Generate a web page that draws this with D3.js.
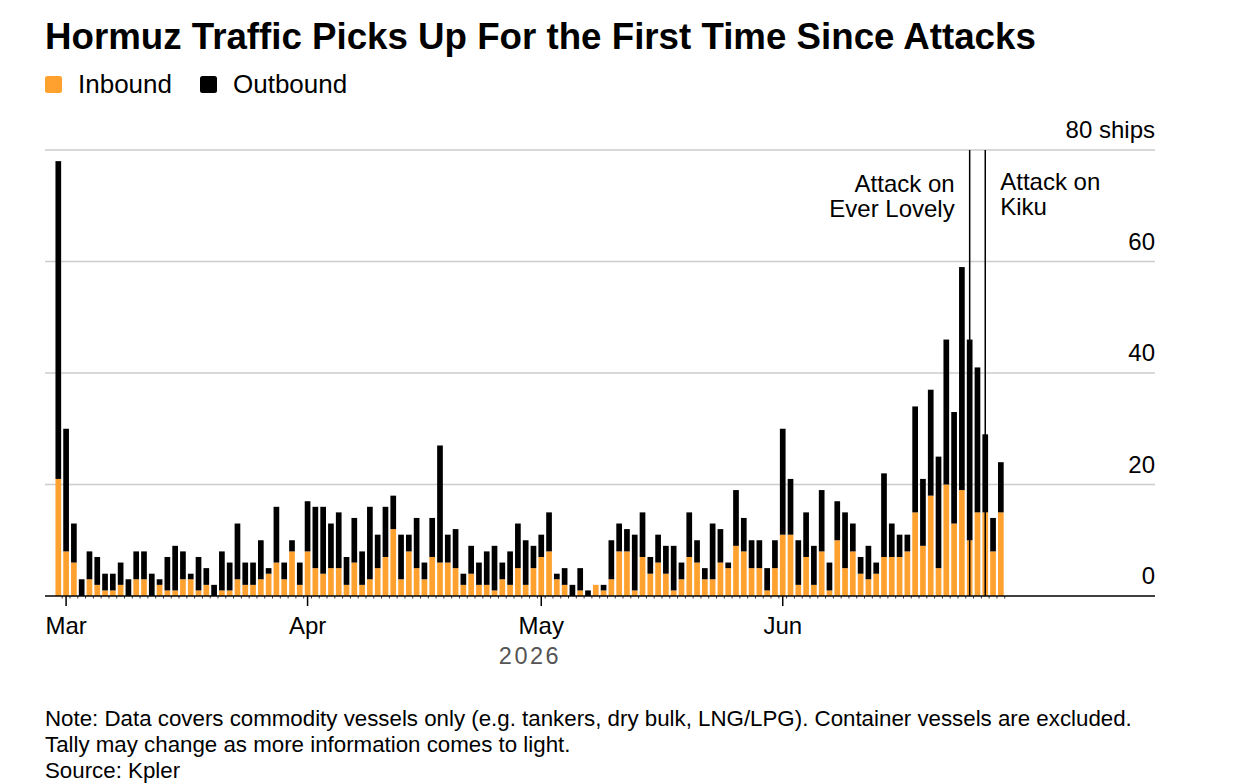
<!DOCTYPE html>
<html>
<head>
<meta charset="utf-8">
<script src="https://cdn.jsdelivr.net/npm/d3@7"></script>
<style>
  body { margin: 0; background: #fff; }
  svg { display: block; font-family: "Liberation Sans", Arial, sans-serif; }
</style>
</head>
<body>
<div id="chart"></div>
<script>
// Daily ships through Hormuz, Feb 28 - Jun 29 2026
const firstDay = "2026-02-28";
const lastDay = "2026-06-29";

// Inbound: Feb 28, then Mar / Apr / May / Jun
const inbound = [21,
  8,6,0,3,2,1,1,2,0,3,3,0,2,1,1,3,3,1,2,0,1,1,3,2,2,3,4,6,3,8,2,
  8,5,4,5,5,2,6,2,3,5,7,12,3,8,5,3,7,6,6,5,2,4,2,2,1,3,2,5,2,5,
  7,8,3,2,0,1,0,2,1,3,8,8,1,7,4,6,4,1,3,7,6,3,3,6,5,9,8,5,5,1,5,
  11,11,2,7,2,8,1,10,5,8,4,3,4,7,7,7,8,15,9,18,5,20,13,19,10,15,15,8,15];

const outbound = [57,
  22,7,3,5,5,3,3,4,3,5,5,4,1,6,8,5,1,6,3,2,7,5,10,4,4,7,1,10,3,2,4,
  9,11,12,8,10,5,8,6,13,6,9,6,8,3,9,3,7,21,5,7,2,5,4,6,8,3,6,8,8,4,
  4,7,1,3,2,4,1,0,1,7,5,4,10,8,3,5,5,8,3,8,4,2,10,6,1,10,6,5,5,4,5,
  19,10,8,8,7,11,5,7,10,5,3,6,2,15,6,4,3,19,12,19,20,26,20,40,36,26,14,6,9];

const yTicks = [0, 20, 40, 60, 80];
const monthTicks = ["2026-03-01", "2026-04-01", "2026-05-01", "2026-06-01"];
const annotationDates = ["2026-06-25", "2026-06-27"];
const annotationLabels = [["Attack on", "Ever Lovely"], ["Attack on", "Kiku"]];
const seriesNames = ["Inbound", "Outbound"];
const seriesColors = ["#ffa12e", "#000000"];
const noteLines = [
  "Note: Data covers commodity vessels only (e.g. tankers, dry bulk, LNG/LPG). Container vessels are excluded.",
  "Tally may change as more information comes to light.",
  "Source: Kpler"
];

const width = 1242, height = 784;
const margin = { top: 150, right: 87, bottom: 188, left: 45 };
const parse = d3.utcParse("%Y-%m-%d");

const days = d3.utcDay.range(parse(firstDay), d3.utcDay.offset(parse(lastDay), 1));
const data = days.map((d, i) => ({ date: d, Inbound: inbound[i], Outbound: outbound[i] }));

const svg = d3.select("#chart").append("svg")
    .attr("width", width)
    .attr("height", height)
    .attr("viewBox", [0, 0, width, height]);

// x runs a bit past the data on both sides, as in the original
const x = d3.scaleUtc()
    .domain([d3.utcHour.offset(parse(firstDay), -41), d3.utcHour.offset(parse("2026-07-18"), 19)])
    .range([margin.left, width - margin.right]);

const y = d3.scaleLinear()
    .domain([0, 80])
    .range([height - margin.bottom, margin.top]);

const step = x(days[1]) - x(days[0]);
const bw = step * 0.73;

// Title
svg.append("text")
    .attr("x", 45)
    .attr("y", 49)
    .attr("font-size", 36.7)
    .attr("font-weight", "bold")
    .attr("fill", "#000")
    .text("Hormuz Traffic Picks Up For the First Time Since Attacks");

// Legend
const legend = svg.append("g").attr("transform", "translate(45, 76)");
const legendX = [0, 155];
seriesNames.forEach((name, i) => {
    const g = legend.append("g").attr("transform", `translate(${legendX[i]},0)`);
    g.append("rect")
        .attr("width", 17).attr("height", 17).attr("rx", 2.5)
        .attr("fill", seriesColors[i]);
    g.append("text")
        .attr("x", 33).attr("y", 16.5)
        .attr("font-size", 26)
        .text(name);
});

// Gridlines + right labels
const grid = svg.append("g");
grid.selectAll("line")
    .data(yTicks.filter(d => d > 0))
    .join("line")
    .attr("x1", margin.left).attr("x2", width - margin.right)
    .attr("y1", d => y(d)).attr("y2", d => y(d))
    .attr("stroke", "#cccccc")
    .attr("stroke-width", 1.5);

grid.selectAll("text")
    .data(yTicks)
    .join("text")
    .attr("x", width - margin.right)
    .attr("y", d => y(d) - 12)
    .attr("text-anchor", "end")
    .attr("font-size", 24)
    .text(d => d === 80 ? "80 ships" : d);

// Stacked bars
const stack = d3.stack().keys(seriesNames)(data);
svg.append("g")
    .selectAll("g")
    .data(stack)
    .join("g")
    .attr("fill", (d, i) => seriesColors[i])
    .selectAll("rect")
    .data(d => d)
    .join("rect")
    .attr("x", d => x(d.data.date) - bw / 2)
    .attr("width", bw)
    .attr("y", d => y(d[1]))
    .attr("height", d => y(d[0]) - y(d[1]));

// Annotation lines
const ann = svg.append("g");
annotationDates.forEach((ds, i) => {
    const ax = x(parse(ds));
    ann.append("line")
        .attr("x1", ax).attr("x2", ax)
        .attr("y1", y(80)).attr("y2", y(0))
        .attr("stroke", "#000")
        .attr("stroke-width", 1.5);
    const left = i === 0;
    ann.append("text")
        .attr("font-size", 24)
        .attr("text-anchor", left ? "end" : "start")
        .selectAll("tspan")
        .data(annotationLabels[i])
        .join("tspan")
        .attr("x", left ? ax - 15 : ax + 15)
        .attr("y", (d, j) => (left ? 192 : 190) + j * 25)
        .text(d => d);
});

// X axis baseline, day ticks, month ticks
const axis = svg.append("g");
axis.selectAll(".day")
    .data(days)
    .join("line")
    .attr("class", "day")
    .attr("x1", d => x(d) + step / 2).attr("x2", d => x(d) + step / 2)
    .attr("y1", y(0)).attr("y2", y(0) + 2.5)
    .attr("stroke", "#000")
    .attr("stroke-width", 0.8);

axis.append("line")
    .attr("x1", margin.left).attr("x2", width - margin.right)
    .attr("y1", y(0)).attr("y2", y(0))
    .attr("stroke", "#000")
    .attr("stroke-width", 1.5);

const months = monthTicks.map(parse);
axis.selectAll(".month")
    .data(months)
    .join("line")
    .attr("class", "month")
    .attr("x1", d => x(d)).attr("x2", d => x(d))
    .attr("y1", y(0)).attr("y2", y(0) + 10)
    .attr("stroke", "#000")
    .attr("stroke-width", 1.5);

axis.selectAll(".mlabel")
    .data(months)
    .join("text")
    .attr("class", "mlabel")
    .attr("x", d => x(d))
    .attr("y", 634)
    .attr("text-anchor", "middle")
    .attr("font-size", 24)
    .text(d => d3.utcFormat("%b")(d));

svg.append("text")
    .attr("x", 530)
    .attr("y", 664)
    .attr("text-anchor", "middle")
    .attr("font-size", 23.5)
    .attr("letter-spacing", 2.5)
    .attr("fill", "#555")
    .text("2026");

// Footer note
svg.append("g")
    .selectAll("text")
    .data(noteLines)
    .join("text")
    .attr("x", 45)
    .attr("y", (d, i) => 726 + i * 26)
    .attr("font-size", 22.3)
    .text(d => d);
</script>
</body>
</html>
